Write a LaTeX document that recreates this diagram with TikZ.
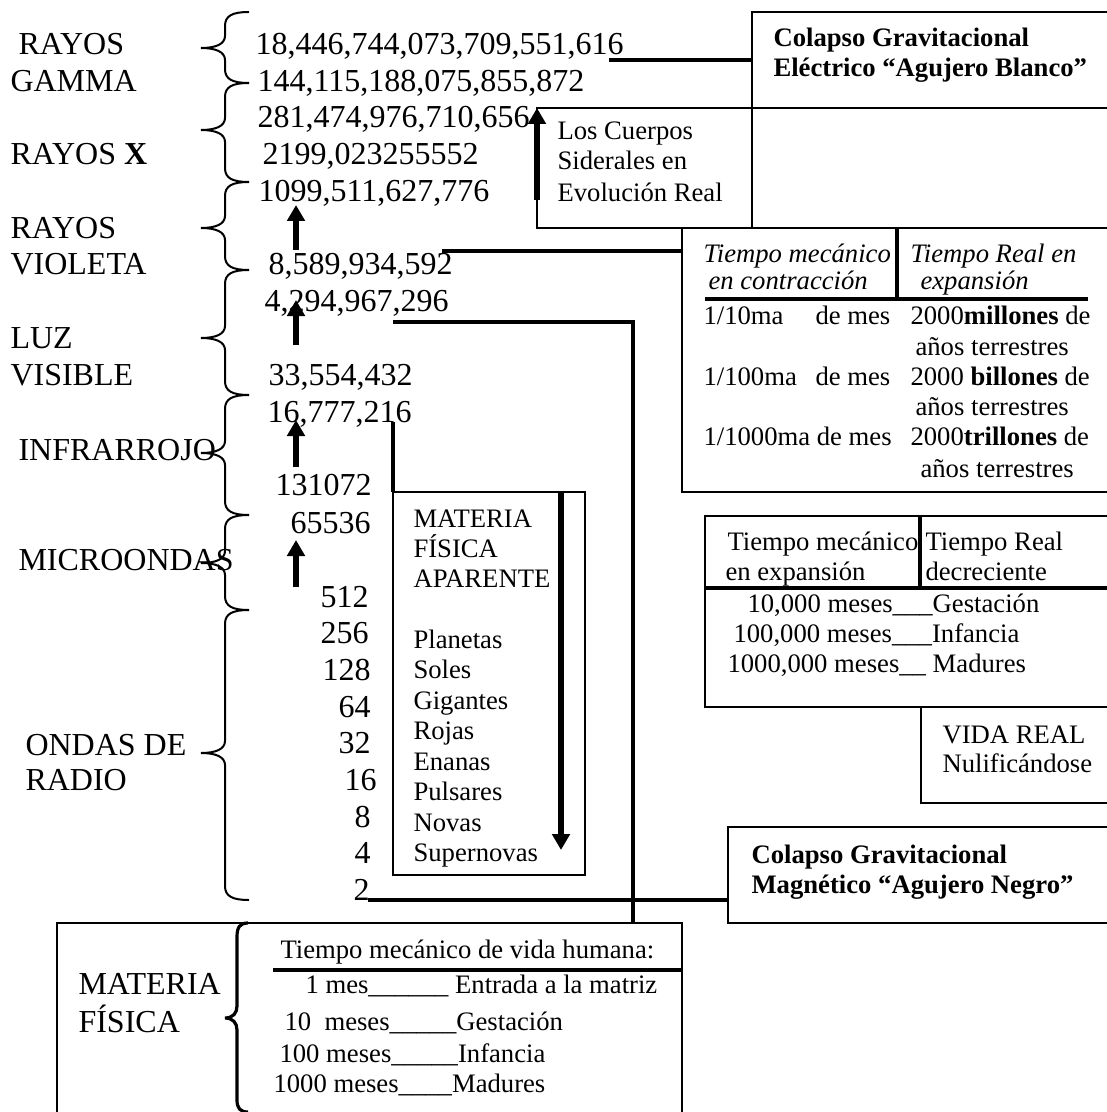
\documentclass[tikz,border=0pt]{standalone}
\usepackage{fontspec}
\setmainfont{Liberation Serif}
\usetikzlibrary{arrows.meta,fit,calc}
\tikzset{
 t12/.style={anchor=base west, inner sep=0pt, font=\fontsize{12}{14}\selectfont},
 t10/.style={anchor=base west, inner sep=0pt, font=\fontsize{10}{12}\selectfont},
 t10b/.style={anchor=base west, inner sep=0pt, font=\fontsize{10}{12}\selectfont\bfseries},
 t10i/.style={anchor=base west, inner sep=0pt, font=\fontsize{10}{12}\selectfont\itshape},
 boxed/.style={draw, line width=0.75pt, inner sep=0pt, outer sep=0pt},
 conn/.style={line width=1.5pt},
 rulethick/.style={line width=1.3pt},
 brc/.style={line width=0.75pt},
 uparr/.style={line width=2.2pt, -{Triangle[length=6pt,width=6.5pt]}},
}
\newcommand\mybrace[3]{\draw[brc] (249,#1) .. controls (232,#1) and (225,#1+4) .. (225,#1+14) -- (225,#2-12) .. controls (225,#2-4) and (216,#2) .. (201,#2) .. controls (216,#2) and (225,#2+4) .. (225,#2+12) -- (225,#3-14) .. controls (225,#3-4) and (232,#3) .. (249,#3);}
\begin{document}
\begin{tikzpicture}[x=0.375pt,y=-0.375pt]
\useasboundingbox (0,0) rectangle (1107,1112);
\clip (0,0) rectangle (1107,1112);

% left labels
\node[t12] (lab1) at (18,55) {RAYOS};
\node[t12] (lab2) at (10,92) {GAMMA};
\node[t12] (lab3) at (10,165) {RAYOS \textbf{X}};
\node[t12] (lab4) at (10,239) {RAYOS};
\node[t12] (lab5) at (10,275) {VIOLETA};
\node[t12] (lab6) at (10,348) {LUZ};
\node[t12] (lab7) at (10,385) {VISIBLE};
\node[t12] (lab8) at (18,460) {INFRARROJO};
\node[t12] (lab9) at (18,570) {MICROONDAS};
\node[t12] (lab10) at (25,755) {ONDAS DE};
\node[t12] (lab11) at (25,790) {RADIO};

% braces
\mybrace{12}{48}{83}
\mybrace{83}{130}{182}
\mybrace{182}{228}{270}
\mybrace{270}{338}{395}
\mybrace{395}{453}{515}
\mybrace{515}{563}{610}
\mybrace{610}{753}{900}

% numbers
\node[t12] (n1) at (255,55) {18,446,744,073,709,551,616};
\node[t12] (n2) at (257,92) {144,115,188,075,855,872};
\node[t12] (n3) at (257,128) {281,474,976,710,656};
\node[t12] (n4) at (262,165) {2199,023255552};
\node[t12] (n5) at (258,202) {1099,511,627,776};
\node[t12] (n6) at (268,275) {8,589,934,592};
\node[t12] (n7) at (264,312) {4,294,967,296};
\node[t12] (n8) at (268,385) {33,554,432};
\node[t12] (n9) at (267,422) {16,777,216};
\node[t12] (n10) at (275,495) {131072};
\node[t12] (n11) at (290,533) {65536};
\node[t12] (n12) at (320,607) {512};
\node[t12] (n13) at (320,643) {256};
\node[t12] (n14) at (322,680) {128};
\node[t12] (n15) at (338,717) {64};
\node[t12] (n16) at (338,753) {32};
\node[t12] (n17) at (344,790) {16};
\node[t12] (n18) at (354,827) {8};
\node[t12] (n19) at (354,863) {4};
\node[t12] (n20) at (353,900) {2};

% up arrows
\coordinate (a1s) at (296,250); \coordinate (a1e) at (296,205);
\coordinate (a2s) at (296,345); \coordinate (a2e) at (296,300);
\coordinate (a3s) at (296,467); \coordinate (a3e) at (296,420);
\coordinate (a4s) at (296,587); \coordinate (a4e) at (296,540);
\draw[uparr] (a1s) -- (a1e);
\draw[uparr] (a2s) -- (a2e);
\draw[uparr] (a3s) -- (a3e);
\draw[uparr] (a4s) -- (a4e);

% boxes
\node[boxed, fit={(752,12) (1125,108)}] (blanco) {};
\node[boxed, fit={(752,108) (1125,228)}] (vacio) {};
\node[boxed, fit={(537,108) (752,228)}] (cuerpos) {};
\node[boxed, fit={(682,228) (1125,492)}] (tabla1) {};
\node[boxed, fit={(705,516) (1125,707)}] (tabla2) {};
\node[boxed, fit={(921,707) (1125,803)}] (vida) {};
\node[boxed, fit={(728,827) (1125,923)}] (negro) {};
\node[boxed, fit={(393,492) (585,875)}] (aparente) {};
\node[boxed, fit={(57,923) (682,1130)}] (materia) {};

% box texts
\node[t10b] (bl1) at (773,47) {Colapso Gravitacional};
\node[t10b] (bl2) at (773,77) {Eléctrico “Agujero Blanco”};

\node[t10] (cu1) at (557,140) {Los Cuerpos};
\node[t10] (cu2) at (557,170) {Siderales en};
\node[t10] (cu3) at (557,202) {Evolución Real};
\coordinate (a5s) at (537,200); \coordinate (a5e) at (537,108);
\draw[uparr] (a5s) -- (a5e);

\node[t10i] (h1) at (703,263) {Tiempo mecánico};
\node[t10i] (h2) at (708,290) {en contracción};
\node[t10i] (h3) at (910,263) {Tiempo Real en};
\node[t10i] (h4) at (920,290) {expansión};
\draw[rulethick] (897,228) -- (897,298);
\draw[rulethick] (705,299) -- (1088,299);
\node[t10] (r1a) at (703,325) {1/10ma};
\node[t10] (r1b) at (815,325) {de mes};
\node[t10] (r1c) at (910,325) {2000\textbf{millones} de};
\node[t10] (r1d) at (915,355) {años terrestres};
\node[t10] (r2a) at (703,385) {1/100ma};
\node[t10] (r2b) at (815,385) {de mes};
\node[t10] (r2c) at (910,385) {2000 \textbf{billones} de};
\node[t10] (r2d) at (915,415) {años terrestres};
\node[t10] (r3a) at (703,445) {1/1000ma de mes};
\node[t10] (r3c) at (910,445) {2000\textbf{trillones} de};
\node[t10] (r3d) at (920,477) {años terrestres};

\node[t10] (ap1) at (413,527) {MATERIA};
\node[t10] (ap2) at (413,557) {FÍSICA};
\node[t10] (ap3) at (413,587) {APARENTE};
\node[t10] (ap4) at (413,648) {Planetas};
\node[t10] (ap5) at (413,678) {Soles};
\node[t10] (ap6) at (413,709) {Gigantes};
\node[t10] (ap7) at (413,739) {Rojas};
\node[t10] (ap8) at (413,770) {Enanas};
\node[t10] (ap9) at (413,800) {Pulsares};
\node[t10] (ap10) at (413,831) {Novas};
\node[t10] (ap11) at (413,861) {Supernovas};
\coordinate (dns) at (561,492); \coordinate (dne) at (561,850);
\draw[line width=1.9pt, -{Triangle[length=6pt,width=6.5pt]}] (dns) -- (dne);

\node[t10] (t2a) at (727,550) {Tiempo mecánico};
\node[t10] (t2b) at (725,580) {en expansión};
\node[t10] (t2c) at (925,550) {Tiempo Real};
\node[t10] (t2d) at (925,580) {decreciente};
\draw[rulethick] (920,516) -- (920,588);
\draw[rulethick] (705,588) -- (1125,588);
\node[t10] (t2e) at (747,612) {10,000 meses\_\_\_Gestación};
\node[t10] (t2f) at (733,642) {100,000 meses\_\_\_Infancia};
\node[t10] (t2g) at (727,672) {1000,000 meses\_\_ Madures};

\node[t10] (vi1) at (942,743) {VIDA REAL};
\node[t10] (vi2) at (942,772) {Nulificándose};

\node[t10b] (ng1) at (751,863) {Colapso Gravitacional};
\node[t10b] (ng2) at (751,893) {Magnético “Agujero Negro”};

% bottom materia box
\node[t12] (mf1) at (78,994) {MATERIA};
\node[t12] (mf2) at (78,1032) {FÍSICA};
\draw[line width=1.2pt] (248,923) .. controls (240,923) and (237,927) .. (237,937) -- (237,1006) .. controls (237,1013) and (233,1018) .. (225,1018) .. controls (233,1018) and (237,1023) .. (237,1030) -- (237,1100) .. controls (237,1108) and (240,1112) .. (248,1112);
\node[t10] (vh0) at (280,958) {Tiempo mecánico de vida humana:};
\draw[rulethick] (273,970) -- (682,970);
\node[t10] (vh1) at (305,993) {1 mes\_\_\_\_\_\_ Entrada a la matriz};
\node[t10] (vh2) at (284,1030) {10~~meses\_\_\_\_\_Gestación};
\node[t10] (vh3) at (279,1062) {100 meses\_\_\_\_\_Infancia};
\node[t10] (vh4) at (273,1092) {1000 meses\_\_\_\_Madures};

% connectors
\coordinate (c1) at (609,60);
\draw[conn] (c1) -- (c1 -| blanco.west);
\coordinate (c2) at (442,251);
\draw[conn] (c2) -- (c2 -| tabla1.west);
\coordinate (c3) at (393,322); \coordinate (c3b) at (633,322);
\draw[conn] (c3) -- (c3b) -- (c3b |- materia.north);
\coordinate (c4) at (393,422);
\draw[conn] (c4) -- (c4 |- aparente.north);
\coordinate (c5) at (368,900);
\draw[conn] (c5) -- (c5 -| negro.west);
\end{tikzpicture}
\end{document}
